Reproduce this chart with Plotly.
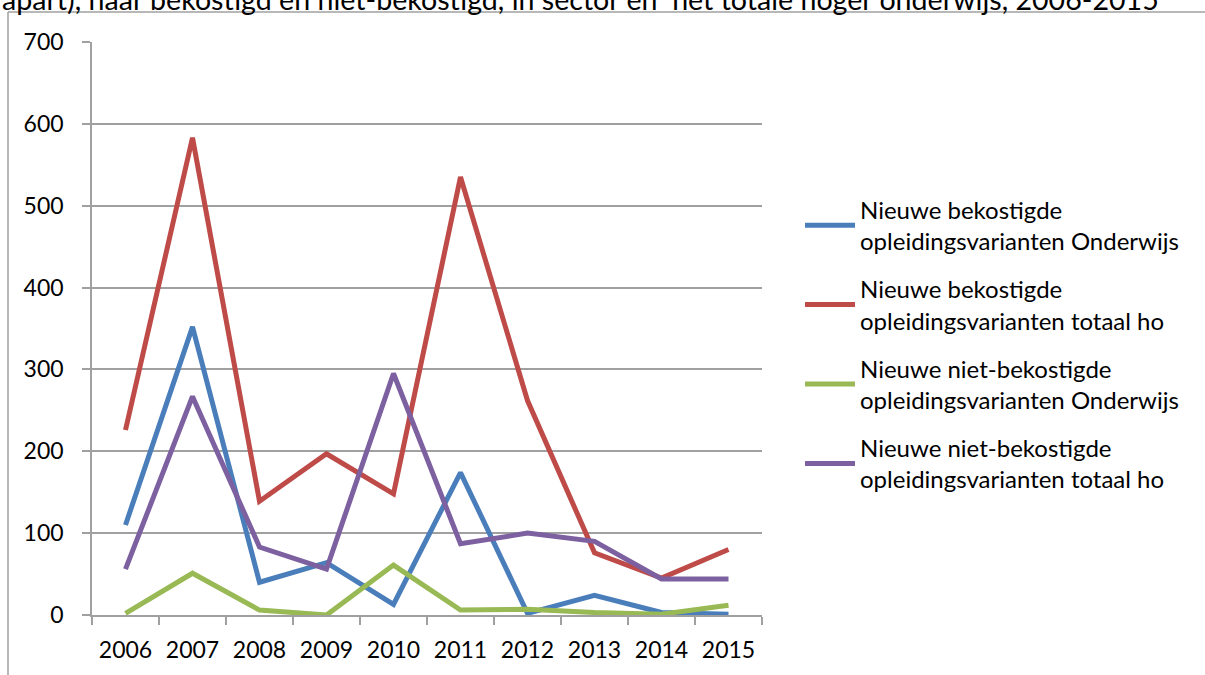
import plotly.graph_objects as go

years = ["2006", "2007", "2008", "2009", "2010", "2011", "2012", "2013", "2014", "2015"]
bek_onderwijs = [110, 352, 40, 64, 13, 174, 2, 24, 3, 1]
bek_totaal = [226, 583, 139, 197, 148, 535, 262, 76, 45, 80]
nietbek_onderwijs = [2, 51, 6, 0, 61, 6, 7, 3, 1, 12]
nietbek_totaal = [56, 267, 83, 56, 295, 87, 100, 90, 44, 44]

names = [
    "Nieuwe bekostigde<br>opleidingsvarianten Onderwijs",
    "Nieuwe bekostigde<br>opleidingsvarianten totaal ho",
    "Nieuwe niet-bekostigde<br>opleidingsvarianten Onderwijs",
    "Nieuwe niet-bekostigde<br>opleidingsvarianten totaal ho",
]
colors = ["#4A7EBB", "#BE4B48", "#98B954", "#7D60A0"]
series = [bek_onderwijs, bek_totaal, nietbek_onderwijs, nietbek_totaal]

FONT = "Lato"
W, H = 1205, 675
L, R, T, B = 92, 762, 42, 617

fig = go.Figure()
for i, (nm, c, s) in enumerate(zip(names, colors, series)):
    fig.add_trace(go.Scatter(x=years, y=s, mode="lines", name=nm,
                             line=dict(color=c, width=5), legendgroup=str(i)))

def px_x(p):
    return (p - L) / (R - L)

def px_y(p):
    return (B - p) / (B - T)

fig.update_layout(
    width=W, height=H,
    margin=dict(l=L, r=W - R, t=T, b=H - B),
    paper_bgcolor="white", plot_bgcolor="white",
    font=dict(family=FONT, size=24, color="black"),
    showlegend=True,
    legend=dict(x=px_x(800), y=px_y(188), xanchor="left", yanchor="top",
                font=dict(family=FONT, size=24, color="black"),
                tracegroupgap=14, itemwidth=50,
                bgcolor="rgba(0,0,0,0)"),
    xaxis=dict(type="category", range=[-0.5, 9.5], showgrid=False,
               showline=True, linecolor="#A0A0A0", linewidth=1.5,
               ticks="outside", tickson="boundaries", ticklen=8,
               tickcolor="#A0A0A0", tickwidth=1.5,
               tickfont=dict(family=FONT, size=23, color="black"),
               ticklabelstandoff=14, fixedrange=True),
    yaxis=dict(range=[0, 700], dtick=100, showgrid=True, gridcolor="#A0A0A0",
               gridwidth=1.5, zeroline=False,
               showline=True, linecolor="#A0A0A0", linewidth=1.5,
               ticks="outside", ticklen=8, tickcolor="#A0A0A0", tickwidth=1.5,
               tickfont=dict(family=FONT, size=23, color="black"),
               ticklabelstandoff=14, fixedrange=True),
)

# outer frame of the chart (left and top edges visible)
fig.add_shape(type="line", xref="paper", yref="paper",
              x0=px_x(8), x1=px_x(1215), y0=px_y(12), y1=px_y(12),
              line=dict(color="#A0A0A0", width=1.5))
fig.add_shape(type="line", xref="paper", yref="paper",
              x0=px_x(8), x1=px_x(8), y0=px_y(12), y1=px_y(690),
              line=dict(color="#A0A0A0", width=1.5))

fig.add_annotation(
    text="apart), naar bekostigd en niet-bekostigd, in sector en  het totale hoger onderwijs, 2006-2015",
    xref="paper", yref="paper", x=px_x(0), y=px_y(-1), xanchor="left", yanchor="middle",
    showarrow=False, font=dict(family=FONT, size=28.6, color="black"))

fig.write_html("out.html", config={"displayModeBar": False},
               post_script="document.body.style.margin='0px';")
